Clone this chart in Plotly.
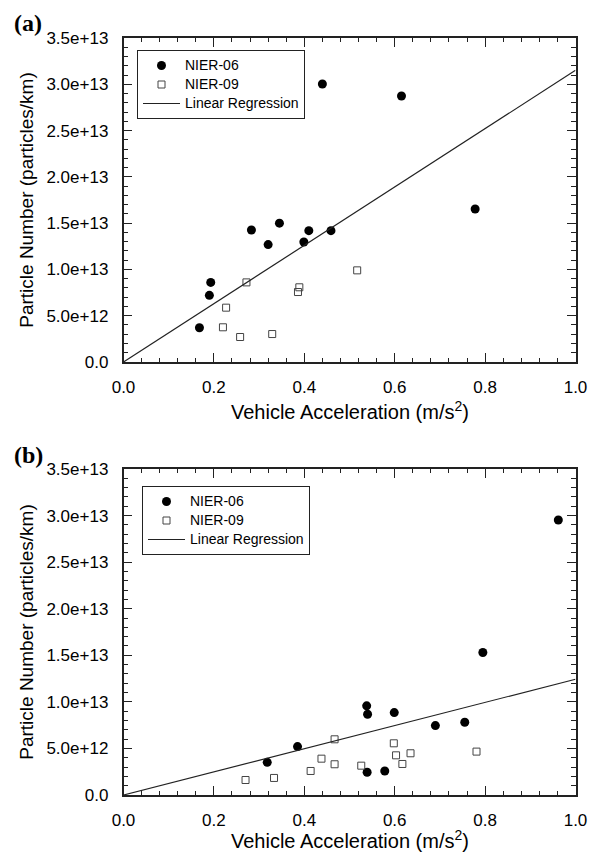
import plotly.graph_objects as go

# ---------------- data ----------------
# Panel (a)
a06_x = [0.168, 0.190, 0.193, 0.283, 0.320, 0.345, 0.399, 0.410, 0.459, 0.440, 0.615, 0.778]
a06_y = [3.7e12, 7.2e12, 8.6e12, 1.426e13, 1.268e13, 1.50e13, 1.296e13, 1.419e13, 1.419e13, 3.003e13, 2.874e13, 1.653e13]
a09_x = [0.272, 0.227, 0.220, 0.258, 0.329, 0.389, 0.386, 0.517]
a09_y = [8.6e12, 5.87e12, 3.75e12, 2.7e12, 3.02e12, 8.07e12, 7.56e12, 9.9e12]
a_slope = 3.151e13

# Panel (b)
b06_x = [0.318, 0.385, 0.538, 0.540, 0.539, 0.578, 0.599, 0.690, 0.755, 0.795, 0.962]
b06_y = [3.51e12, 5.2e12, 9.57e12, 8.67e12, 2.44e12, 2.58e12, 8.85e12, 7.45e12, 7.81e12, 1.53e13, 2.952e13]
b09_x = [0.270, 0.333, 0.414, 0.438, 0.467, 0.467, 0.526, 0.598, 0.603, 0.617, 0.635, 0.781]
b09_y = [1.61e12, 1.83e12, 2.58e12, 3.9e12, 3.3e12, 5.98e12, 3.15e12, 5.55e12, 4.26e12, 3.33e12, 4.48e12, 4.66e12]
b_slope = 1.243e13

reg_x = [0.0, 1.0]

x_tick_vals = [0.0, 0.2, 0.4, 0.6, 0.8, 1.0]
x_tick_labels = ["0.0", "0.2", "0.4", "0.6", "0.8", "1.0"]
y_tick_vals = [0, 5e12, 1e13, 1.5e13, 2e13, 2.5e13, 3e13, 3.5e13]
y_tick_labels = ["0.0", "5.0e+12", "1.0e+13", "1.5e+13", "2.0e+13", "2.5e+13", "3.0e+13", "3.5e+13"]

series_names = ["NIER-06", "NIER-09", "Linear Regression"]
panel_labels = ["(a)", "(b)"]
x_title = "Vehicle Acceleration (m/s<sup>2</sup>)"
y_title = "Particle Number (particles/km)"

# ---------------- figure ----------------
W, H = 599, 853
FONT = "Liberation Sans, Arial, sans-serif"
AX = "#222222"

fig = go.Figure()

def leg_name(s):
    return '<span style="font-size:14px">' + s + '</span>'

def add_panel(xa, ya, leg, x06, y06, x09, y09, slope):
    fig.add_trace(go.Scatter(
        x=x06, y=y06, mode="markers", name=leg_name(series_names[0]),
        marker=dict(symbol="circle", size=9, color="black", line=dict(width=0)),
        xaxis=xa, yaxis=ya, legend=leg))
    fig.add_trace(go.Scatter(
        x=x09, y=y09, mode="markers", name=leg_name(series_names[1]),
        marker=dict(symbol="square-open", size=7, color="#444444", line=dict(width=1)),
        xaxis=xa, yaxis=ya, legend=leg))
    fig.add_trace(go.Scatter(
        x=reg_x, y=[slope * v for v in reg_x], mode="lines", name=leg_name(series_names[2]),
        line=dict(color=AX, width=1.2),
        xaxis=xa, yaxis=ya, legend=leg))

add_panel("x", "y", "legend", a06_x, a06_y, a09_x, a09_y, a_slope)
add_panel("x2", "y2", "legend2", b06_x, b06_y, b09_x, b09_y, b_slope)

def px_x(p):
    return p / W

def px_y(p):
    return 1 - p / H

x_dom = [px_x(123.5), px_x(575.5)]
ya_dom = [px_y(362), px_y(38)]
yb_dom = [px_y(795), px_y(469)]

def xaxis_cfg(anchor):
    return dict(
        range=[0, 1], tickvals=x_tick_vals, ticktext=x_tick_labels,
        ticks="inside", ticklen=9, tickwidth=1.2, tickcolor=AX,
        minor=dict(dtick=0.04, tick0=0, ticks="inside", ticklen=4.5, tickwidth=1.2, tickcolor=AX),
        showline=True, linecolor=AX, linewidth=1.5, mirror="ticks",
        showgrid=False, zeroline=False, automargin=False,
        tickfont=dict(family=FONT, size=17, color="black"),
        ticklabelstandoff=9,
        domain=x_dom, anchor=anchor,
    )

def yaxis_cfg(dom, anchor):
    return dict(
        range=[0, 3.5e13], tickvals=y_tick_vals, ticktext=y_tick_labels,
        ticks="inside", ticklen=9, tickwidth=1.2, tickcolor=AX,
        minor=dict(dtick=1e12, tick0=0, ticks="inside", ticklen=4.5, tickwidth=1.2, tickcolor=AX),
        showline=True, linecolor=AX, linewidth=1.5, mirror="ticks",
        showgrid=False, zeroline=False, automargin=False,
        tickfont=dict(family=FONT, size=17, color="black"),
        ticklabelstandoff=10,
        title=dict(text=y_title, font=dict(family=FONT, size=19, color="black"), standoff=8),
        domain=dom, anchor=anchor,
    )

legend_common = dict(xanchor="left", yanchor="top", bordercolor=AX, borderwidth=1,
                     bgcolor="white", font=dict(family=FONT, size=11, color="black"),
                     tracegroupgap=0, itemwidth=37)

fig.update_layout(
    width=W, height=H,
    margin=dict(l=0, r=0, t=0, b=0, autoexpand=False),
    paper_bgcolor="white", plot_bgcolor="white",
    xaxis=xaxis_cfg("y"),
    yaxis=yaxis_cfg(ya_dom, "x"),
    xaxis2=xaxis_cfg("y2"),
    yaxis2=yaxis_cfg(yb_dom, "x2"),
    legend=dict(x=px_x(137), y=px_y(50), **legend_common),
    legend2=dict(x=px_x(142), y=px_y(486), **legend_common),
    showlegend=True,
)

# x-axis titles (placed below each panel)
for ypx in [410, 839]:
    fig.add_annotation(text=x_title, xref="paper", yref="paper",
                       x=(x_dom[0] + x_dom[1]) / 2, y=px_y(ypx),
                       xanchor="center", yanchor="middle", showarrow=False,
                       font=dict(family=FONT, size=20, color="black"))

for lbl, ypx in zip(panel_labels, [23, 455]):
    fig.add_annotation(text="<b>" + lbl + "</b>", xref="paper", yref="paper",
                       x=px_x(12), y=px_y(ypx), xanchor="left", yanchor="middle",
                       showarrow=False,
                       font=dict(family="Liberation Serif, Times New Roman, serif", size=24, color="black"))

fig.write_html("out.html")
